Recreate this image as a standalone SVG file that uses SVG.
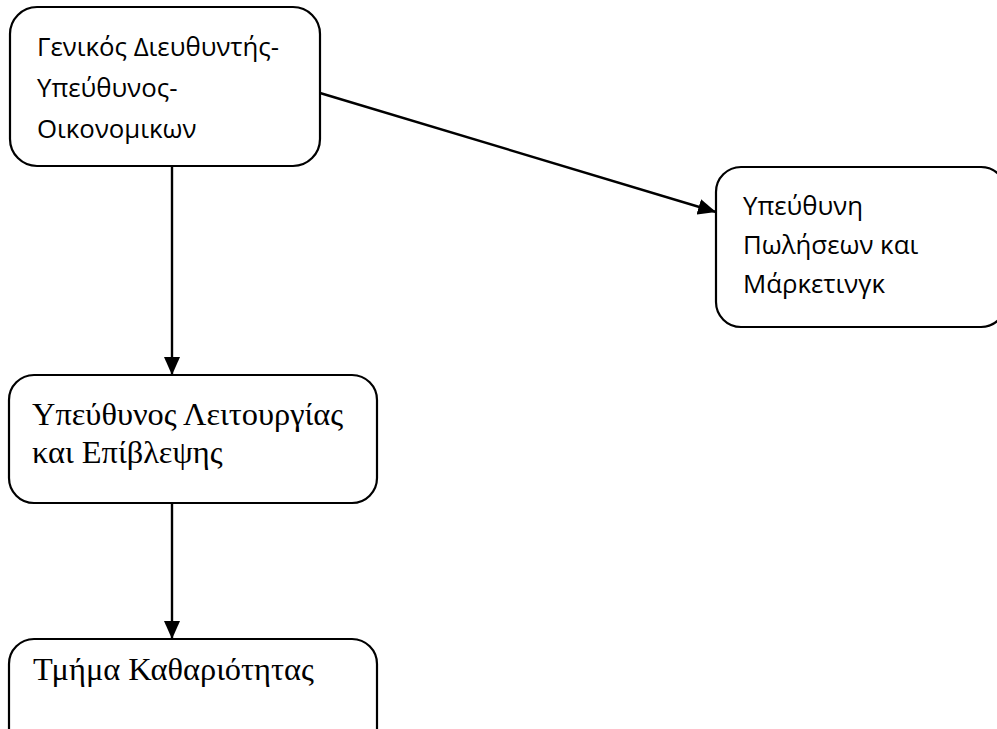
<svg xmlns="http://www.w3.org/2000/svg" width="997" height="729" viewBox="0 0 997 729">
<defs>
<marker id="arr" viewBox="0 0 18 16" refX="18" refY="8" markerWidth="18" markerHeight="16" markerUnits="userSpaceOnUse" orient="auto">
<path d="M0,0 L18,8 L0,16 Z" fill="#000"/>
</marker>
<style>
.box{fill:#fff;stroke:#000;stroke-width:2.2}
.sans{font-family:"Open Sans","Noto Sans","DejaVu Sans",sans-serif;font-size:25.8px;fill:#000}
.serif{font-family:"Liberation Serif","DejaVu Serif",serif;font-size:32.4px;fill:#000}
.conn{stroke:#000;stroke-width:2.4;fill:none}
</style>
</defs>
<rect width="997" height="729" fill="#fff"/>
<g id="connectors">
<line class="conn" x1="172" y1="167" x2="172" y2="375" marker-end="url(#arr)"/>
<line class="conn" x1="172" y1="503" x2="172" y2="639" marker-end="url(#arr)"/>
<line class="conn" x1="320" y1="93" x2="716" y2="212" marker-end="url(#arr)"/>
</g>
<g id="node-gm">
<rect class="box" x="10" y="7" width="310" height="159" rx="27"/>
<text class="sans" x="37" y="56">Γενικός Διευθυντής-</text>
<text class="sans" x="37" y="97">Υπεύθυνος-</text>
<text class="sans" x="37" y="138">Οικονομικων</text>
</g>
<g id="node-sales">
<rect class="box" x="716" y="167" width="290" height="160" rx="25"/>
<text class="sans" x="743" y="215">Υπεύθυνη</text>
<text class="sans" x="743" y="254">Πωλήσεων και</text>
<text class="sans" x="743" y="293">Μάρκετινγκ</text>
</g>
<g id="node-ops">
<rect class="box" x="9" y="375" width="368" height="128" rx="25"/>
<text class="serif" x="32" y="425">Υπεύθυνος Λειτουργίας</text>
<text class="serif" x="32" y="463">και Επίβλεψης</text>
</g>
<g id="node-clean">
<rect class="box" x="9" y="639" width="368" height="120" rx="25"/>
<text class="serif" x="33" y="680">Τμήμα Καθαριότητας</text>
</g>
</svg>
